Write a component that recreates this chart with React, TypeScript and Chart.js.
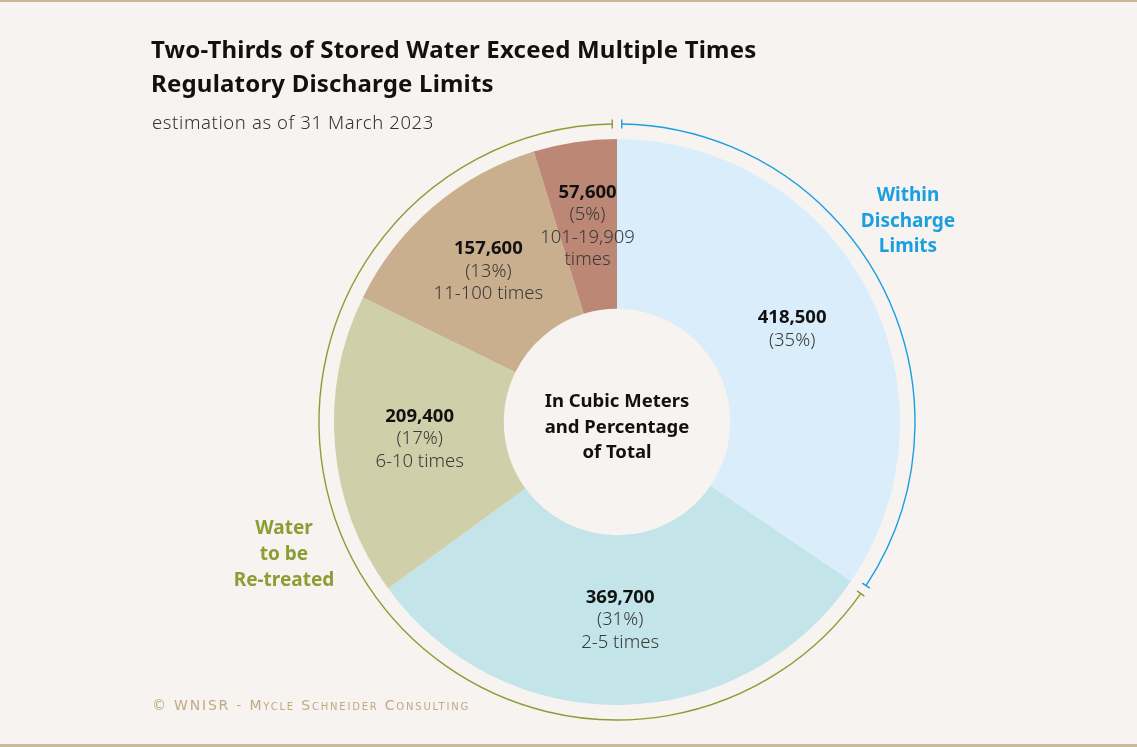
import React, { useEffect, useRef } from "react";
import { Chart, registerables } from "chart.js";

Chart.register(...registerables);

const categories = ["Within Discharge Limits", "2-5 times", "6-10 times", "11-100 times", "101-19,909 times"];
const volumes = [418500, 369700, 209400, 157600, 57600];
const valueLabels = ["418,500", "369,700", "209,400", "157,600", "57,600"];
const percentLabels = ["(35%)", "(31%)", "(17%)", "(13%)", "(5%)"];
const timesLabels: string[][] = [[], ["2-5 times"], ["6-10 times"], ["11-100 times"], ["101-19,909", "times"]];
const sliceColors = ["#d9edfa", "#c3e4e9", "#cfd0a9", "#c9af8d", "#bd8776"];

const groupLabels = [["Within", "Discharge", "Limits"], ["Water", "to be", "Re-treated"]];
const groupSlices = [[0, 0], [1, 4]];
const groupColors = ["#1a9fe0", "#8a9e33"];
const centerLines = ["In Cubic Meters", "and Percentage", "of Total"];

const FONT = '"Noto Sans", "Open Sans", sans-serif';
const BG = "#f6f3f1";

const overlayPlugin = {
  id: "overlay",
  afterDatasetsDraw(chart: any) {
    const ctx = chart.ctx;
    const meta = chart.getDatasetMeta(0);
    const arcs = meta.data;
    if (!arcs.length) return;
    const cx = arcs[0].x;
    const cy = arcs[0].y;
    const outer = arcs[0].outerRadius;
    ctx.save();
    // slice labels
    ctx.textAlign = "center";
    ctx.textBaseline = "middle";
    const lh = 22.5;
    arcs.forEach((arc: any, i: number) => {
      const p = arc.tooltipPosition();
      const lines: { t: string; bold: boolean }[] = [
        { t: valueLabels[i], bold: true },
        { t: percentLabels[i], bold: false },
        ...timesLabels[i].map((t) => ({ t, bold: false })),
      ];
      const y0 = p.y - ((lines.length - 1) * lh) / 2;
      lines.forEach((l, k) => {
        ctx.font = (l.bold ? "bold 18.5px " : "300 18.5px ") + FONT;
        ctx.fillStyle = l.bold ? "#111111" : "#3a3a3a";
        ctx.fillText(l.t, p.x, y0 + k * lh);
      });
    });
    // center text
    ctx.font = "bold 18.5px " + FONT;
    ctx.fillStyle = "#111111";
    centerLines.forEach((t, k) => ctx.fillText(t, cx, cy - 20 + k * 25.5));
    // group brackets
    const r = outer + 15;
    const gap = 0.016;
    groupSlices.forEach(([a, b], g) => {
      const s = arcs[a].startAngle + gap;
      const e = arcs[b].endAngle - gap;
      ctx.strokeStyle = groupColors[g];
      ctx.lineWidth = 1.4;
      ctx.beginPath();
      ctx.arc(cx, cy, r, s, e);
      ctx.stroke();
      [s, e].forEach((ang) => {
        ctx.beginPath();
        ctx.moveTo(cx + Math.cos(ang) * (r - 4.5), cy + Math.sin(ang) * (r - 4.5));
        ctx.lineTo(cx + Math.cos(ang) * (r + 4.5), cy + Math.sin(ang) * (r + 4.5));
        ctx.stroke();
      });
    });
    ctx.restore();
  },
};

export default function App() {
  const ref = useRef<HTMLCanvasElement | null>(null);
  useEffect(() => {
    document.body.style.margin = "0";
    document.body.style.background = BG;
    const chart = new Chart(ref.current as HTMLCanvasElement, {
      type: "doughnut",
      data: {
        labels: categories,
        datasets: [
          {
            data: volumes,
            backgroundColor: sliceColors,
            borderWidth: 0,
          },
        ],
      },
      options: {
        responsive: false,
        animation: false,
        cutout: "40%",
        layout: { padding: { left: 334, right: 237, top: 139, bottom: 42 } },
        plugins: { legend: { display: false }, tooltip: { enabled: false }, title: { display: false } },
      },
      plugins: [overlayPlugin],
    });
    return () => chart.destroy();
  }, []);

  const abs = (s: React.CSSProperties): React.CSSProperties => ({ position: "absolute", ...s });
  return (
    <div style={{ position: "absolute", left: 0, top: 0, width: 1137, height: 747, background: BG, overflow: "hidden", fontFamily: FONT }}>
      <div style={abs({ left: 0, top: 0, width: 1137, height: 2, background: "#c9b99b" })} />
      <div style={abs({ left: 0, top: 744, width: 1137, height: 3, background: "#c9b99b" })} />
      <canvas ref={ref} width={1137} height={747} style={abs({ left: 0, top: 0 })} />
      <div style={abs({ left: 151, top: 32, fontSize: 24, fontWeight: 700, lineHeight: "34px", letterSpacing: 0.2, color: "#111", whiteSpace: "nowrap" })}>
        <div>Two-Thirds of Stored Water Exceed Multiple Times</div>
        <div>Regulatory Discharge Limits</div>
      </div>
      <div style={abs({ left: 152, top: 109, fontSize: 18.5, fontWeight: 300, lineHeight: "26px", letterSpacing: 0.6, color: "#333", whiteSpace: "nowrap" })}>
        estimation as of 31 March 2023
      </div>
      <div style={abs({ left: 848, top: 182, width: 120, textAlign: "center", fontSize: 19, fontWeight: 700, lineHeight: "25.5px", color: groupColors[0] })}>
        {groupLabels[0].map((t) => (<div key={t}>{t}</div>))}
      </div>
      <div style={abs({ left: 224, top: 514, width: 120, textAlign: "center", fontSize: 19, fontWeight: 700, lineHeight: "26px", color: groupColors[1] })}>
        {groupLabels[1].map((t) => (<div key={t}>{t}</div>))}
      </div>
      <div style={abs({ left: 152, top: 696, fontSize: 14, fontVariant: "small-caps", letterSpacing: 1.8, lineHeight: "18px", color: "#c4a883", whiteSpace: "nowrap", fontFamily: '"DejaVu Sans", sans-serif' })}>
        © WNISR - Mycle Schneider Consulting
      </div>
    </div>
  );
}
